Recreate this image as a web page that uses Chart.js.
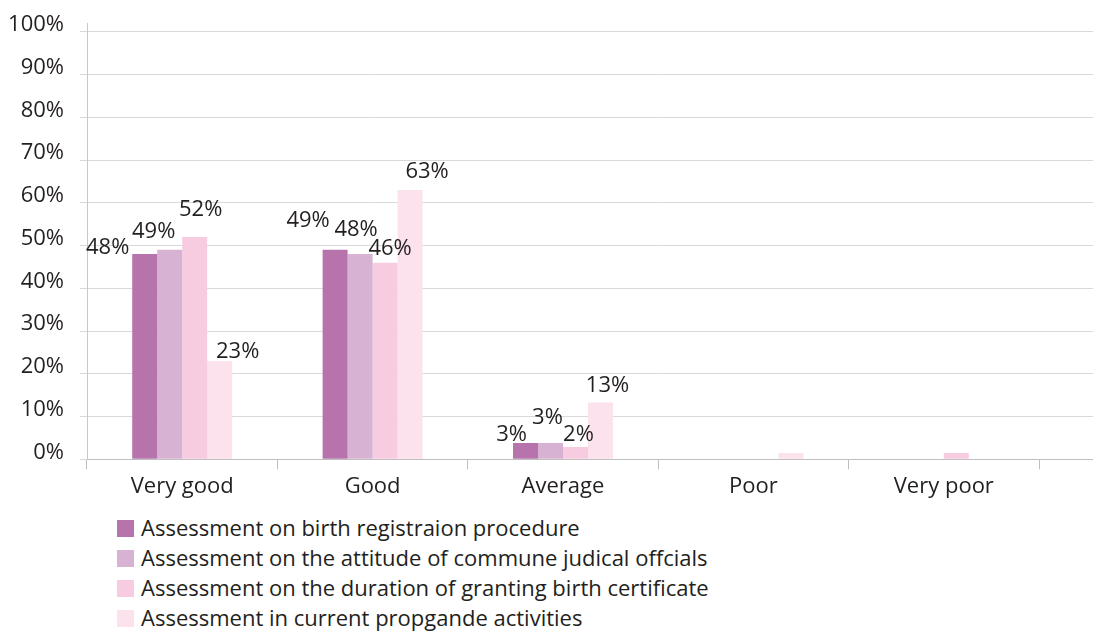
<!DOCTYPE html>
<html>
<head>
<meta charset="utf-8">
<script src="https://cdn.jsdelivr.net/npm/chart.js@4.4.1/dist/chart.umd.min.js"></script>
<style>
  html, body { margin: 0; padding: 0; background: #ffffff; }
  body { width: 1093px; height: 633px; overflow: hidden; position: relative; font-family: 'Open Sans', sans-serif; }
  #wrap { position: absolute; left: 0; top: 0; width: 1240px; height: 500px; }
  #legend { position: absolute; left: 117px; top: 512px; color: #231f20; font-size: 22px; }
  .row { position: relative; height: 30px; line-height: 30px; padding-left: 24px; white-space: nowrap; }
  .sw { position: absolute; left: 0; top: 8px; width: 17px; height: 17px; }
</style>
</head>
<body>
<div id="wrap"><canvas id="c"></canvas></div>
<div id="legend"></div>
<script>
// ---- data ----
const categories = ['Very good', 'Good', 'Average', 'Poor', 'Very poor'];
const seriesNames = [
  'Assessment on birth registraion procedure',
  'Assessment on the attitude of commune judical offcials',
  'Assessment on the duration of granting birth certificate',
  'Assessment in current propgande activities'
];
const birthRegistration   = [48, 49, 3.8, 0, 0];
const communeOfficials    = [49, 48, 3.8, 0, 0];
const certificateDuration = [52, 46, 2.9, 0, 1.5];
const propaganda          = [23, 63, 13.3, 1.5, 0];
const yTickValues = [0, 10, 20, 30, 40, 50, 60, 70, 80, 90, 100];

const seriesColors = ['#b773ac', '#d8b2d2', '#f8cce0', '#fbe2ec'];
const seriesValues = [birthRegistration, communeOfficials, certificateDuration, propaganda];

// label nudges (dx, baseline gap above bar top) per series / category
const labelNudges = [
  [[-37, 0], [-27, 23], [-14, 2]],
  [[-16, 12], [-4, 18], [-3, 19]],
  [[6, 21], [5, 8], [3, 6]],
  [[18, 3], [17, 12], [7, 10]]
];

const TEXT = '#231f20';
const FONT = "'Open Sans', sans-serif";
Chart.defaults.font.family = FONT;
Chart.defaults.font.size = 22;
Chart.defaults.color = TEXT;

const valueLabels = {
  id: 'valueLabels',
  afterDatasetsDraw(chart) {
    const ctx = chart.ctx;
    ctx.save();
    ctx.font = '22px ' + FONT;
    ctx.fillStyle = TEXT;
    ctx.textAlign = 'center';
    ctx.textBaseline = 'alphabetic';
    chart.data.datasets.forEach((ds, di) => {
      const meta = chart.getDatasetMeta(di);
      meta.data.forEach((el, i) => {
        const v = ds.data[i];
        if (v == null || v < 2) return;
        const n = (labelNudges[di] && labelNudges[di][i]) || [0, 4];
        ctx.fillText(Math.floor(v) + '%', el.x + n[0], el.y - n[1]);
      });
    });
    ctx.restore();
  }
};

new Chart(document.getElementById('c'), {
  type: 'bar',
  data: {
    labels: categories.concat(['']),
    datasets: seriesValues.map((vals, k) => ({
      label: seriesNames[k],
      data: vals,
      backgroundColor: seriesColors[k],
      borderWidth: 0,
      categoryPercentage: 0.525,
      barPercentage: 1.0
    }))
  },
  options: {
    responsive: true,
    maintainAspectRatio: false,
    animation: false,
    layout: { padding: { left: 0, right: 10.6, top: 23.2, bottom: 0 } },
    plugins: { legend: { display: false }, tooltip: { enabled: false } },
    scales: {
      x: {
        grid: { display: true, drawOnChartArea: false, drawTicks: true, tickLength: 10, color: '#bfbfbf', offset: true },
        border: { display: true, color: '#bfbfbf', width: 1 },
        ticks: { padding: 4, color: TEXT, font: { size: 22 }, maxRotation: 0, autoSkip: false },
        afterFit(scale) { scale.height = 40.7; scale.paddingLeft = 0; scale.paddingRight = 0; }
      },
      y: {
        min: 0,
        max: 102,
        grid: { color: '#d9d9d9', drawTicks: true, tickLength: 7 },
        border: { display: true, color: '#c8c8c8', width: 1 },
        ticks: { padding: 16, labelOffset: -7, color: TEXT, font: { size: 22 }, callback: v => v + '%' },
        afterBuildTicks(scale) { scale.ticks = yTickValues.map(v => ({ value: v })); },
        afterFit(scale) { scale.width = 87; scale.paddingTop = 0; scale.paddingBottom = 0; }
      }
    }
  },
  plugins: [valueLabels]
});

// legend as real text
const lg = document.getElementById('legend');
seriesNames.forEach((name, k) => {
  const row = document.createElement('div');
  row.className = 'row';
  const sw = document.createElement('span');
  sw.className = 'sw';
  sw.style.background = seriesColors[k];
  row.appendChild(sw);
  row.appendChild(document.createTextNode(name));
  lg.appendChild(row);
});
</script>
</body>
</html>
